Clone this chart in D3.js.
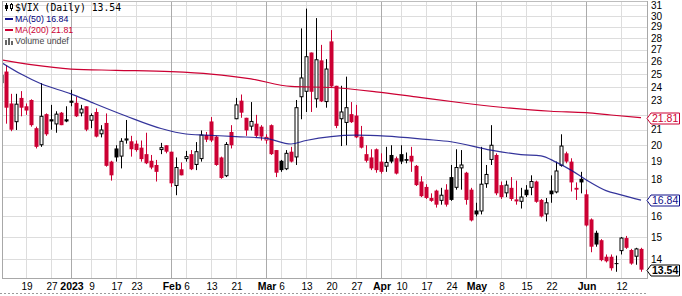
<!DOCTYPE html>
<html><head><meta charset="utf-8">
<script src="https://cdn.jsdelivr.net/npm/d3@7"></script>
<style>body{margin:0;background:#fff}svg{display:block}</style>
</head><body>
<script>
// ---- categories: trading days shown ----
const dayLists = [
  ["2022-12", [12,13,14,15,16,19,20,21,22,23,27,28,29,30]],
  ["2023-01", [3,4,5,6,9,10,11,12,13,17,18,19,20,23,24,25,26,27,30,31]],
  ["2023-02", [1,2,3,6,7,8,9,10,13,14,15,16,17,21,22,23,24,27,28]],
  ["2023-03", [1,2,3,6,7,8,9,10,13,14,15,16,17,20,21,22,23,24,27,28,29,30,31]],
  ["2023-04", [3,4,5,6,10,11,12,13,14,17,18,19,20,21,24,25,26,27,28]],
  ["2023-05", [1,2,3,4,5,8,9,10,11,12,15,16,17,18,19,22,23,24,25,26,30,31]],
  ["2023-06", [1,2,5,6,7,8,9,12,13,14,15,16]]
];
const dates = dayLists.flatMap(([m, ds]) => ds.map(d => m + "-" + String(d).padStart(2, "0")));

// ---- OHLC series ----
const open = [
 24.3,25.2,22.8,21.5,23.2,22.6,23.05,21.1,20.0,22.05,21.7,21.35,22.15,21.7,
 23.0,22.85,22.1,22.6,21.6,22.2,20.7,21.45,19.0,19.8,19.3,20.3,20.25,20.1,19.85,19.45,19.05,18.8,19.7,20.0,
 19.6,17.6,18.55,19.15,19.45,18.8,19.15,20.65,21.55,20.55,19.25,18.15,20.85,21.7,23.0,21.8,21.2,21.4,21.2,
 20.3,21.3,19.7,19.05,18.55,19.6,19.25,23.25,23.65,26.75,23.1,26.1,22.9,27.7,24.1,21.7,21.45,22.05,21.95,20.55,19.45,19.25,19.75,
 19.0,18.7,19.4,19.2,19.45,19.15,19.35,18.75,17.85,17.55,16.95,17.35,16.8,17.4,18.1,17.5,18.6,18.35,17.4,
 16.3,16.25,17.7,19.1,19.4,17.65,17.2,17.5,16.8,16.75,17.4,17.5,17.85,16.85,16.1,17.35,17.25,18.75,19.5,19.0,17.5,18.0,
 17.15,15.85,15.2,14.85,14.1,14.1,13.82,14.35,14.95,14.4,14.1,14.45
];
const high = [
 25.3,25.7,23.5,23.5,23.7,22.8,23.1,21.2,24.3,22.1,22.7,22.25,22.2,22.6,
 23.8,23.3,22.7,22.6,22.1,22.45,21.3,22.1,19.05,20.0,20.45,21.65,20.6,20.3,20.3,20.8,19.4,19.1,20.15,20.0,
 19.6,19.25,18.95,19.65,19.7,20.2,20.95,20.85,21.85,20.6,19.3,20.2,21.3,23.2,23.45,21.8,22.9,22.0,21.3,
 20.7,21.35,19.7,19.1,19.7,19.9,23.05,28.85,30.7,26.75,29.8,27.4,26.2,28.7,24.1,24.1,24.8,22.9,22.7,21.25,20.0,19.75,19.8,
 19.5,19.9,20.0,19.3,20.0,19.55,19.9,18.8,18.15,17.7,17.2,17.4,17.5,17.7,18.8,19.75,19.7,18.4,17.5,
 16.7,19.9,18.8,21.3,19.5,17.85,17.9,18.1,17.9,17.5,17.65,18.2,17.9,16.9,16.95,18.2,19.0,20.7,19.6,19.2,17.8,18.4,
 17.4,15.9,15.3,14.9,14.2,14.2,14.15,15.0,15.05,14.45,14.5,14.5
];
const low = [
 23.9,21.4,20.9,20.98,21.9,22.0,21.2,19.8,19.9,20.6,21.0,20.8,21.3,21.5,
 22.6,21.85,21.9,20.9,21.1,20.5,20.5,18.7,17.9,19.0,18.6,20.1,19.3,19.6,19.0,18.85,18.55,17.85,19.45,19.5,
 17.55,17.1,18.2,19.0,18.5,18.5,19.0,20.2,20.2,18.75,18.0,18.1,19.8,21.7,21.8,20.6,20.95,20.5,20.3,
 20.1,19.4,18.1,18.4,18.5,18.95,18.8,21.7,22.2,22.2,22.5,22.9,22.5,24.0,21.1,19.95,20.0,21.45,20.45,19.8,18.95,18.5,18.35,
 18.3,18.4,18.9,18.25,18.85,18.9,18.4,17.6,17.0,16.9,16.75,16.45,16.6,16.5,16.8,17.4,17.4,16.6,15.75,
 16.0,16.1,17.5,18.8,17.1,16.9,17.0,16.8,16.6,16.4,17.0,17.1,16.7,15.95,15.75,16.7,17.2,18.7,18.9,17.3,16.85,17.2,
 15.5,14.3,14.55,13.9,13.85,13.5,13.45,14.2,14.45,13.75,13.75,13.45
];
const close = [
 24.9,22.5,21.0,22.75,22.5,22.3,21.3,19.9,21.9,20.7,21.55,22.05,21.3,21.55,
 22.85,21.9,22.4,21.0,21.95,20.55,20.98,18.75,18.2,19.25,20.25,20.4,19.75,19.7,19.15,18.9,18.65,18.4,19.85,19.6,
 17.75,18.65,18.2,19.3,18.55,19.6,20.65,20.35,20.3,18.8,18.05,20.05,20.0,22.7,22.15,20.95,21.55,20.6,20.55,
 20.5,19.45,18.35,18.5,19.5,19.0,22.5,24.7,26.4,23.65,26.15,22.95,25.4,24.05,21.25,22.2,22.5,21.5,20.5,19.85,19.05,18.6,18.5,
 18.4,18.95,19.0,18.3,19.0,19.05,19.0,17.65,17.05,16.95,16.8,16.6,17.1,16.6,16.85,18.65,18.8,16.85,15.8,
 16.1,17.7,18.25,20.0,17.2,17.0,17.65,16.9,16.85,17.0,17.1,17.85,16.75,16.0,16.7,17.15,18.45,19.95,19.0,17.8,17.4,17.8,
 15.55,14.55,14.65,13.95,13.9,13.6,13.78,14.95,14.5,13.8,14.45,13.54
];

// ---- moving averages ----
const ma50Dates = ["2022-12-12","2022-12-16","2022-12-22","2023-01-03","2023-01-09","2023-01-19","2023-01-30","2023-02-06","2023-02-10","2023-02-21","2023-03-01","2023-03-08","2023-03-13","2023-03-20","2023-03-27","2023-04-04","2023-04-17","2023-04-24","2023-05-04","2023-05-12","2023-05-18","2023-05-23","2023-05-26","2023-06-01","2023-06-07","2023-06-12","2023-06-16"];
const ma50Values = [25.95,25.0,24.25,23.5,22.9,21.92,21.08,20.72,20.65,20.55,20.44,20.08,20.3,20.55,20.64,20.58,20.37,20.22,19.7,19.42,19.35,18.97,18.5,17.95,17.35,17.12,16.84];
const ma200Dates = ["2022-12-12","2022-12-20","2023-01-03","2023-01-17","2023-02-01","2023-02-13","2023-02-24","2023-03-08","2023-03-20","2023-03-31","2023-04-13","2023-04-26","2023-05-08","2023-05-22","2023-06-01","2023-06-08","2023-06-16"];
const ma200Values = [26.15,25.75,25.4,25.3,25.19,25.0,24.63,24.05,23.97,23.65,23.27,22.85,22.53,22.25,22.15,21.99,21.81];

// ---- ticks ----
const gridTicks = [14,15,16,17,18,19,20,21,22,23,24,25,26,27,28,29,30,31];
const yTickLabels = [14,15,16,18,19,20,21,23,24,25,26,27,28,29,30,31]; // 17 and 22 sit under the value flags
const xTickDates = ["2022-12-19","2022-12-27","2023-01-03","2023-01-09","2023-01-17","2023-01-23","2023-02-01","2023-02-06","2023-02-13","2023-02-21","2023-03-01","2023-03-06","2023-03-13","2023-03-20","2023-03-27","2023-04-03","2023-04-10","2023-04-17","2023-04-24","2023-05-01","2023-05-08","2023-05-15","2023-05-22","2023-06-01","2023-06-12"];
const xTickLabels = ["19","27","2023","9","17","23","Feb","6","13","21","Mar","6","13","20","27","Apr","10","17","24","May","8","15","22","Jun","12"];
const majorLabels = ["2023","Feb","Mar","Apr","May","Jun"];

const W = 682, H = 296, L = 3, R = 647, T = 1, B = 278;
const RED = "#cc0033", BLUE = "#10108a", GRID = "#dddddd", MONTH = "#ababab";

const x = d3.scalePoint().domain(dates).range([1, 1 + 5 * (dates.length - 1)]);
const y = d3.scaleLog().domain([13.19, 31.44]).range([B, T]);
const px = v => Math.round(v) + 0.5;

const svg = d3.select("body").append("svg").attr("width", W).attr("height", H)
  .style("font-family", "'Liberation Sans', Arial, sans-serif");
svg.append("rect").attr("width", W).attr("height", H).attr("fill", "#fff");
svg.append("defs").append("clipPath").attr("id", "plot")
  .append("rect").attr("x", L).attr("y", T).attr("width", R - L).attr("height", B - T);

// grid
const grid = svg.append("g").attr("shape-rendering", "crispEdges");
grid.selectAll(".hg").data(gridTicks).join("line")
  .attr("x1", L).attr("x2", R).attr("y1", d => px(y(d))).attr("y2", d => px(y(d)))
  .attr("stroke", GRID);
const labelOf = d => xTickLabels[xTickDates.indexOf(d)];
grid.selectAll(".vg").data(xTickDates).join("line")
  .attr("x1", d => px(x(d))).attr("x2", d => px(x(d))).attr("y1", T).attr("y2", B)
  .attr("stroke", d => majorLabels.includes(labelOf(d)) ? MONTH : GRID);

// candles
const plot = svg.append("g").attr("clip-path", "url(#plot)");
const rows = dates.map((d, i) => ({d, o: open[i], h: high[i], l: low[i], c: close[i], pc: i ? close[i - 1] : -Infinity}));
const cg = plot.selectAll("g.c").data(rows).join("g");
cg.each(function(r) {
  const g = d3.select(this);
  const col = r.c < r.pc ? RED : "#000";
  const xc = Math.round(x(r.d));
  g.append("line").attr("x1", xc + 0.5).attr("x2", xc + 0.5)
    .attr("y1", y(r.h)).attr("y2", y(r.l)).attr("stroke", col).attr("stroke-width", 1);
  const top = y(Math.max(r.o, r.c)), bot = y(Math.min(r.o, r.c));
  const hgt = Math.max(1, bot - top);
  if (r.c < r.o) {
    g.append("rect").attr("x", xc - 1.5).attr("width", 4).attr("y", top).attr("height", hgt).attr("fill", col);
  } else {
    g.append("rect").attr("x", xc - 1).attr("width", 3).attr("y", top).attr("height", Math.max(1, hgt - 0.5))
      .attr("fill", "#fff").attr("stroke", col).attr("stroke-width", 1);
  }
});

// MA lines
const line = d3.line().x(d => x(d[0])).y(d => y(d[1])).curve(d3.curveMonotoneX);
plot.append("path").attr("d", line(ma200Dates.map((d, i) => [d, ma200Values[i]])))
  .attr("fill", "none").attr("stroke", RED).attr("stroke-width", 1.2);
plot.append("path").attr("d", line(ma50Dates.map((d, i) => [d, ma50Values[i]])))
  .attr("fill", "none").attr("stroke", BLUE).attr("stroke-width", 1.2).attr("stroke-opacity", 0.85);

// frame
const fr = svg.append("g").attr("shape-rendering", "crispEdges").attr("stroke", "#a8a8a8");
fr.append("line").attr("x1", 2.5).attr("x2", 2.5).attr("y1", T).attr("y2", B + 0.5);
fr.append("line").attr("x1", L).attr("x2", R).attr("y1", 1.5).attr("y2", 1.5).attr("stroke", "#bdbdbd");
fr.append("line").attr("x1", 2).attr("x2", R + 1).attr("y1", B + 0.5).attr("y2", B + 0.5);
fr.append("line").attr("x1", R + 0.5).attr("x2", R + 0.5).attr("y1", T).attr("y2", B + 1);
svg.append("line").attr("x1", 0).attr("x2", R).attr("y1", 293.5).attr("y2", 293.5)
  .attr("stroke", "#9a9a9a").attr("stroke-dasharray", "2,2");

// right axis
const ya = svg.append("g").attr("transform", `translate(${R},0)`)
  .call(d3.axisRight(y).tickValues(yTickLabels).tickFormat(d3.format("d")).tickSize(0).tickPadding(4));
ya.select(".domain").remove();
ya.selectAll("text").attr("font-size", 10).attr("fill", "#000")
  .attr("font-family", "'Liberation Sans', Arial, sans-serif");

// bottom axis
const xa = svg.append("g").attr("transform", `translate(0.5,${B})`)
  .call(d3.axisBottom(x).tickValues(xTickDates).tickFormat(labelOf).tickSize(0).tickPadding(4.5));
xa.select(".domain").remove();
xa.selectAll("text").attr("font-size", d => majorLabels.includes(labelOf(d)) ? 10.5 : 10)
  .attr("font-weight", d => majorLabels.includes(labelOf(d)) ? "bold" : "normal")
  .attr("fill", "#000").attr("font-family", "'Liberation Sans', Arial, sans-serif");

// value flags on the right
const flags = [
  {v: ma200Values[ma200Values.length - 1], col: RED, bold: false},
  {v: ma50Values[ma50Values.length - 1], col: BLUE, bold: false},
  {v: close[close.length - 1], col: "#000", bold: true}
];
flags.forEach(f => {
  const yc = Math.round(y(f.v)) + 0.5;
  svg.append("path")
    .attr("d", `M${R},${yc} L${R + 4},${yc - 5.5} L${W - 2.5},${yc - 5.5} L${W - 2.5},${yc + 5.5} L${R + 4},${yc + 5.5} Z`)
    .attr("fill", "#fff").attr("stroke", f.col).attr("stroke-width", 1);
  svg.append("text").attr("x", R + 5).attr("y", yc).attr("dy", "0.35em")
    .attr("font-size", 10.5).attr("font-weight", f.bold ? "bold" : "normal")
    .attr("fill", f.col).text(d3.format(".2f")(f.v));
});

// legend
const lg = svg.append("g");
lg.append("line").attr("x1", 6.5).attr("x2", 6.5).attr("y1", 3).attr("y2", 11).attr("stroke", "#000");
lg.append("rect").attr("x", 5).attr("y", 5).attr("width", 3).attr("height", 4).attr("fill", "#000");
lg.append("line").attr("x1", 11.5).attr("x2", 11.5).attr("y1", 3).attr("y2", 11).attr("stroke", "#000");
lg.append("rect").attr("x", 10.5).attr("y", 4.5).attr("width", 2).attr("height", 4).attr("fill", "#fff").attr("stroke", "#000");
lg.append("text").attr("x", 15).attr("y", 11).attr("font-family", "'DejaVu Sans Mono', monospace")
  .attr("font-size", 9.8).attr("fill", "#000").text("$VIX (Daily) 13.54");
lg.append("rect").attr("x", 5).attr("y", 18).attr("width", 8).attr("height", 2).attr("fill", BLUE);
lg.append("text").attr("x", 15).attr("y", 22).attr("font-size", 8.8).attr("fill", "#00007a").text("MA(50) 16.84");
lg.append("rect").attr("x", 5).attr("y", 29).attr("width", 8).attr("height", 2).attr("fill", RED);
lg.append("text").attr("x", 15).attr("y", 33).attr("font-size", 8.8).attr("fill", RED).text("MA(200) 21.81");
[[5,40,2,5],[8,38,2,7],[11,41,2,4]].forEach(b => lg.append("rect").attr("x", b[0]).attr("y", b[1]).attr("width", b[2]).attr("height", b[3]).attr("fill", "#666"));
lg.append("text").attr("x", 15).attr("y", 44).attr("font-size", 8.8).attr("fill", "#444").text("Volume undef");
</script>
</body></html>
